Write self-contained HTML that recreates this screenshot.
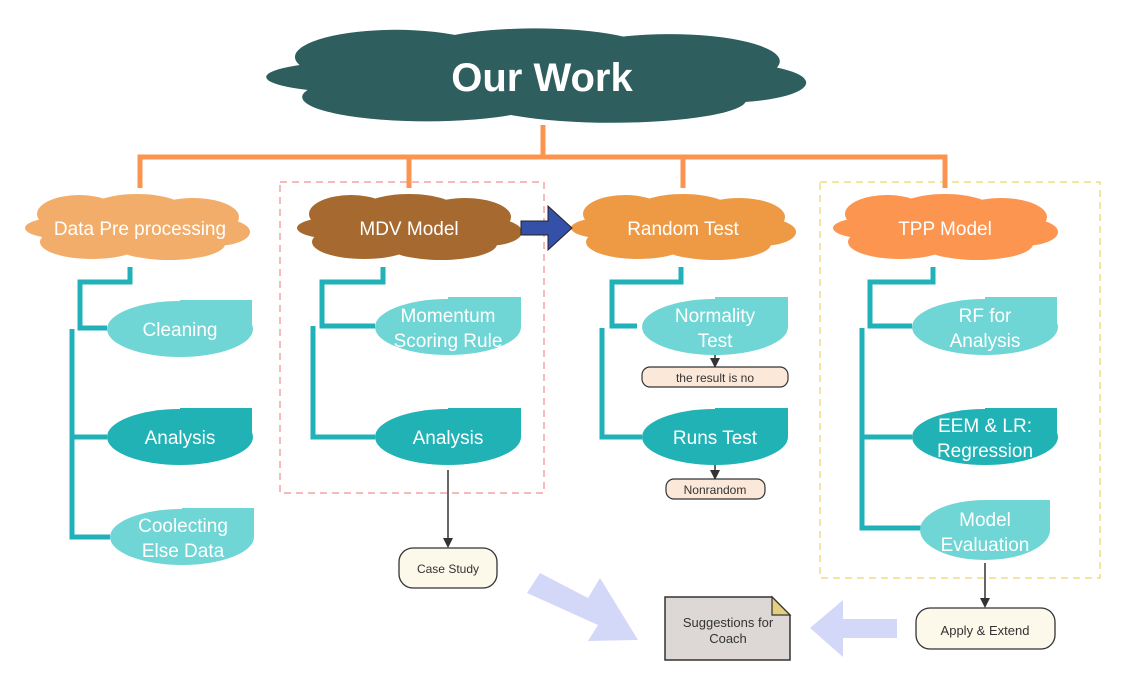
<!DOCTYPE html>
<html><head><meta charset="utf-8"><style>
body{margin:0;background:#fff}
svg{display:block}
text{font-family:"Liberation Sans",sans-serif}
</style></head><body>
<svg width="1125" height="686" viewBox="0 0 1125 686" xmlns="http://www.w3.org/2000/svg">
<defs>
<g id="cloud">
<ellipse cx="-58" cy="-14" rx="42" ry="19"/>
<ellipse cx="0" cy="-18" rx="48" ry="16"/>
<ellipse cx="56" cy="-11" rx="46" ry="19"/>
<ellipse cx="-72" cy="0" rx="40" ry="11"/>
<ellipse cx="78" cy="4" rx="35" ry="14"/>
<ellipse cx="-45" cy="14" rx="52" ry="17"/>
<ellipse cx="32" cy="16" rx="56" ry="16"/>
<ellipse cx="0" cy="0" rx="95" ry="24"/>
</g>
<marker id="ah" markerWidth="10" markerHeight="10" refX="8" refY="5" orient="auto" markerUnits="userSpaceOnUse"><path d="M0,0 L10,5 L0,10 z" fill="#333"/></marker>
</defs>

<rect x="280" y="182" width="264" height="311" fill="none" stroke="#f4a3a3" stroke-width="1.5" stroke-dasharray="7,5"/>
<rect x="820" y="182" width="280" height="396" fill="none" stroke="#f0dd80" stroke-width="1.5" stroke-dasharray="7,5"/>

<g fill="#2e5e5e" transform="translate(535,77) scale(2.4,1.43)"><use href="#cloud"/></g>
<text x="542" y="91" font-size="40" fill="#fff" text-anchor="middle" font-weight="bold">Our Work</text>

<g stroke="#fb9450" stroke-width="5" fill="none">
<path d="M543,125 V157"/>
<path d="M140,188 V157 H945 V188"/>
<path d="M409,157 V188 M683,157 V188"/>
</g>

<g fill="#f2ad6a" transform="translate(137,228)"><use href="#cloud"/></g>
<g fill="#a66a30" transform="translate(409,228)"><use href="#cloud"/></g>
<g fill="#ee9a45" transform="translate(683,228)"><use href="#cloud"/></g>
<g fill="#fc9550" transform="translate(945,228)"><use href="#cloud"/></g>
<g font-size="19" fill="#fff" text-anchor="middle">
<text x="140" y="235">Data Pre processing</text>
<text x="409" y="235">MDV Model</text>
<text x="683" y="235">Random Test</text>
<text x="945" y="235">TPP Model</text>
</g>

<path d="M521,221 H548 V206 L572,228 L548,250 V235 H521 z" fill="#3550a8" stroke="#222" stroke-width="1"/>

<g stroke="#20b2b8" stroke-width="5" fill="none">
<path d="M130,267 V282 H80 V328 H107"/>
<path d="M72,329 V537 H110 M72,437 H107"/>
<path d="M383,267 V282 H322 V326 H375"/>
<path d="M313,326 V437 H375"/>
<path d="M681,267 V282 H612 V326 H637"/>
<path d="M602,328 V437 H642"/>
<path d="M933,267 V282 H870 V326 H912"/>
<path d="M862,328 V528 H921 M862,437 H912"/>
</g>

<g>
<g fill="#70d5d5"><ellipse cx="180" cy="329" rx="73" ry="28"/><rect x="180" y="300" width="72" height="29"/></g>
<g fill="#20b2b5"><ellipse cx="180" cy="437" rx="73" ry="28"/><rect x="180" y="408" width="72" height="29"/></g>
<g fill="#70d5d5"><ellipse cx="182" cy="537" rx="72" ry="28"/><rect x="182" y="508" width="72" height="29"/></g>
<g fill="#70d5d5"><ellipse cx="448" cy="327" rx="73" ry="28"/><rect x="448" y="297" width="73" height="30"/></g>
<g fill="#20b2b5"><ellipse cx="448" cy="437" rx="73" ry="28"/><rect x="448" y="408" width="73" height="29"/></g>
<g fill="#70d5d5"><ellipse cx="715" cy="327" rx="73" ry="28"/><rect x="715" y="297" width="73" height="30"/></g>
<g fill="#20b2b5"><ellipse cx="715" cy="437" rx="73" ry="28"/><rect x="715" y="408" width="73" height="29"/></g>
<g fill="#70d5d5"><ellipse cx="985" cy="327" rx="73" ry="28"/><rect x="985" y="297" width="72" height="30"/></g>
<g fill="#20b2b5"><ellipse cx="985" cy="437" rx="73" ry="28"/><rect x="985" y="408" width="72" height="29"/></g>
<g fill="#70d5d5"><ellipse cx="985" cy="530" rx="65" ry="30"/><rect x="985" y="500" width="65" height="30"/></g>
</g>
<g font-size="19" fill="#fff" text-anchor="middle">
<text x="180" y="336">Cleaning</text>
<text x="180" y="444">Analysis</text>
<text x="183" y="532">Coolecting</text><text x="183" y="557">Else Data</text>
<text x="448" y="322">Momentum</text><text x="448" y="347">Scoring Rule</text>
<text x="448" y="444">Analysis</text>
<text x="715" y="322">Normality</text><text x="715" y="347">Test</text>
<text x="715" y="444">Runs Test</text>
<text x="985" y="322">RF for</text><text x="985" y="347">Analysis</text>
<text x="985" y="432">EEM &amp; LR:</text><text x="985" y="457">Regression</text>
<text x="985" y="526">Model</text><text x="985" y="551">Evaluation</text>
</g>

<path d="M715,355 V366" stroke="#333" stroke-width="1.5" marker-end="url(#ah)"/>
<rect x="642" y="367" width="146" height="20" rx="8" fill="#fbe8d8" stroke="#333" stroke-width="1.2"/>
<text x="715" y="382" font-size="12" fill="#333" text-anchor="middle">the result is no</text>
<path d="M715,465 V478" stroke="#333" stroke-width="1.5" marker-end="url(#ah)"/>
<rect x="666" y="479" width="99" height="20" rx="8" fill="#fbe8d8" stroke="#333" stroke-width="1.2"/>
<text x="715" y="494" font-size="12" fill="#333" text-anchor="middle">Nonrandom</text>

<path d="M448,470 V546" stroke="#333" stroke-width="1.5" marker-end="url(#ah)"/>
<rect x="399" y="548" width="98" height="40" rx="14" fill="#fcf9ea" stroke="#333" stroke-width="1.3"/>
<text x="448" y="573" font-size="12" fill="#333" text-anchor="middle">Case Study</text>

<path d="M985,563 V606" stroke="#333" stroke-width="1.5" marker-end="url(#ah)"/>
<rect x="916" y="608" width="139" height="41" rx="14" fill="#fcf9ea" stroke="#333" stroke-width="1.3"/>
<text x="985" y="635" font-size="13" fill="#333" text-anchor="middle">Apply &amp; Extend</text>

<path d="M665,597 H772 L790,615 V660 H665 z" fill="#ddd8d6" stroke="#333" stroke-width="1.5"/>
<path d="M772,597 V615 H790 z" fill="#e3cf80" stroke="#333" stroke-width="1.2"/>
<text x="728" y="627" font-size="13" fill="#333" text-anchor="middle">Suggestions for</text>
<text x="728" y="643" font-size="13" fill="#333" text-anchor="middle">Coach</text>

<path d="M527,593 L540,573 L588,598 L600,578 L638,640 L588,641 L598,625 Z" fill="#d4d8f8"/>
<path d="M897,619 H843 V600 L810,628 L843,657 V638 H897 Z" fill="#d4d8f8"/>
</svg>
</body></html>
